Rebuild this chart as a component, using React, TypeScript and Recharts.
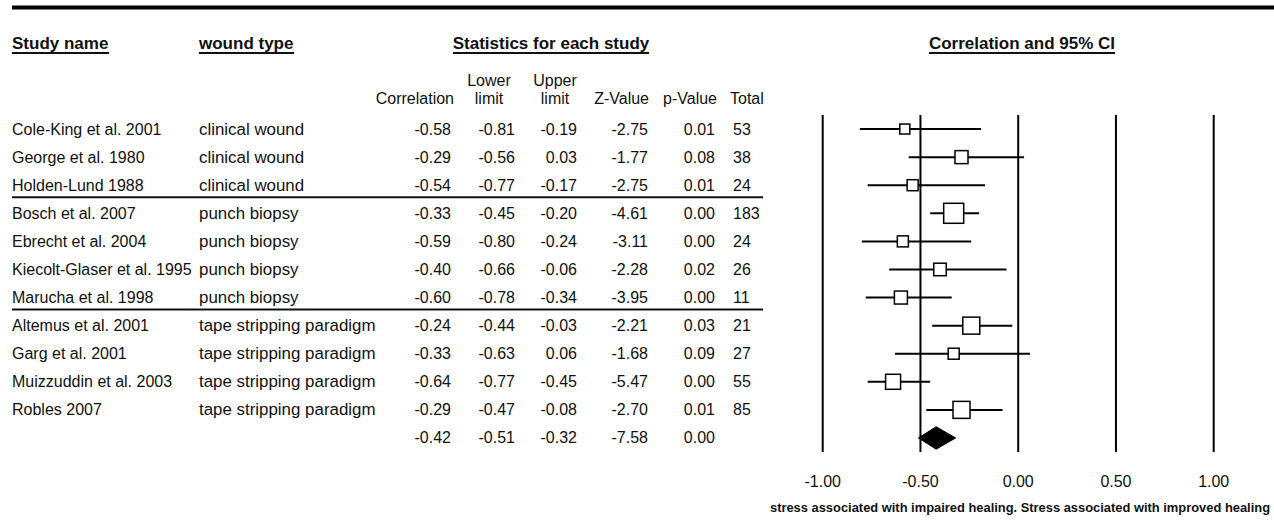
import React from "react";
import {
  ComposedChart,
  Scatter,
  XAxis,
  YAxis,
  ReferenceLine,
} from "recharts";

const studies = [
  "Cole-King et al. 2001",
  "George et al. 1980",
  "Holden-Lund 1988",
  "Bosch et al. 2007",
  "Ebrecht et al. 2004",
  "Kiecolt-Glaser et al. 1995",
  "Marucha et al. 1998",
  "Altemus et al. 2001",
  "Garg et al. 2001",
  "Muizzuddin et al. 2003",
  "Robles 2007",
];
const woundType = [
  "clinical wound",
  "clinical wound",
  "clinical wound",
  "punch biopsy",
  "punch biopsy",
  "punch biopsy",
  "punch biopsy",
  "tape stripping paradigm",
  "tape stripping paradigm",
  "tape stripping paradigm",
  "tape stripping paradigm",
];
const correlation = [-0.58, -0.29, -0.54, -0.33, -0.59, -0.4, -0.6, -0.24, -0.33, -0.64, -0.29];
const lowerLimit = [-0.81, -0.56, -0.77, -0.45, -0.8, -0.66, -0.78, -0.44, -0.63, -0.77, -0.47];
const upperLimit = [-0.19, 0.03, -0.17, -0.2, -0.24, -0.06, -0.34, -0.03, 0.06, -0.45, -0.08];
const zValue = [-2.75, -1.77, -2.75, -4.61, -3.11, -2.28, -3.95, -2.21, -1.68, -5.47, -2.7];
const pValue = [0.01, 0.08, 0.01, 0.0, 0.0, 0.02, 0.0, 0.03, 0.09, 0.0, 0.01];
const total = [53, 38, 24, 183, 24, 26, 11, 21, 27, 55, 85];
// relative study weight
const weight = [10, 13, 11, 20, 11, 12.5, 13, 17, 11, 15, 17];

// pooled result
const pooledCorr = -0.42;
const pooledLower = -0.51;
const pooledUpper = -0.32;
const pooledZ = -7.58;
const pooledP = 0.0;

const xTicks = [-1, -0.5, 0, 0.5, 1];

const W = 1274;
const H = 527;
const FONT = "'Liberation Sans', Arial, Helvetica, sans-serif";
const INK = "#111";

const rowIdx = studies.map((_, i) => i).concat([studies.length]);
const pooledRow = studies.length;
const groupEnds = [2, 6];

const fmt = (v: number) => v.toFixed(2);

function renderRowTick(props: any) {
  const i = props.payload.value as number;
  const y = props.y;
  const base = y + 5.5;
  const pooled = i === pooledRow;
  const c = pooled ? pooledCorr : correlation[i];
  const lo = pooled ? pooledLower : lowerLimit[i];
  const up = pooled ? pooledUpper : upperLimit[i];
  const z = pooled ? pooledZ : zValue[i];
  const p = pooled ? pooledP : pValue[i];
  return (
    <g key={`row-${i}`} fontFamily={FONT} fontSize={16} fill={INK}>
      {!pooled && <text x={12} y={base}>{studies[i]}</text>}
      {!pooled && <text x={199} y={base} fontSize={16.9}>{woundType[i]}</text>}
      <text x={451} y={base} textAnchor="end">{fmt(c)}</text>
      <text x={515} y={base} textAnchor="end">{fmt(lo)}</text>
      <text x={577} y={base} textAnchor="end">{fmt(up)}</text>
      <text x={648} y={base} textAnchor="end">{fmt(z)}</text>
      <text x={715} y={base} textAnchor="end">{fmt(p)}</text>
      {!pooled && <text x={733} y={base}>{total[i]}</text>}
      {groupEnds.includes(i) && (
        <line x1={12} x2={763} y1={y + 12} y2={y + 12} stroke={INK} strokeWidth={2} />
      )}
    </g>
  );
}

function renderXTick(props: any) {
  return (
    <text
      key={`xt-${props.payload.value}`}
      x={props.x}
      y={487}
      textAnchor="middle"
      fontFamily={FONT}
      fontSize={16}
      fill={INK}
    >
      {fmt(props.payload.value)}
    </text>
  );
}

function StudyBox(props: any) {
  const { cx, cy, payload } = props;
  if (!payload.mid) return <g />;
  const s = payload.side;
  return (
    <rect
      x={cx - s / 2}
      y={cy - s / 2}
      width={s}
      height={s}
      fill="#fff"
      stroke="#000"
      strokeWidth={1.5}
    />
  );
}

const Diamond = (p: any) => (
  <polygon
    points={p.points.map((q: any) => `${q.x},${q.y}`).join(" ")}
    fill="#000"
    stroke="#000"
  />
);

function Headers() {
  const bold = { fontFamily: FONT, fontSize: 17, fontWeight: 700, fill: INK };
  const reg = { fontFamily: FONT, fontSize: 16, fill: INK };
  return (
    <svg
      width={W}
      height={H}
      style={{ position: "absolute", left: 0, top: 0, pointerEvents: "none" }}
    >
      <rect x={12} y={5.5} width={W - 12} height={4} fill="#000" />

      <text x={12} y={49} {...bold}>Study name</text>
      <line x1={12} x2={109} y1={53} y2={53} stroke={INK} strokeWidth={2} />
      <text x={199} y={49} {...bold}>wound type</text>
      <line x1={199} x2={294} y1={53} y2={53} stroke={INK} strokeWidth={2} />
      <text x={551} y={49} textAnchor="middle" {...bold}>Statistics for each study</text>
      <line x1={453} x2={649} y1={53} y2={53} stroke={INK} strokeWidth={2} />
      <text x={1022} y={49} textAnchor="middle" {...bold}>Correlation and 95% CI</text>
      <line x1={929} x2={1115} y1={53} y2={53} stroke={INK} strokeWidth={2} />

      <text x={454} y={104} textAnchor="end" {...reg}>Correlation</text>
      <text x={489} y={86} textAnchor="middle" {...reg}>Lower</text>
      <text x={489} y={104} textAnchor="middle" {...reg}>limit</text>
      <text x={555} y={86} textAnchor="middle" {...reg}>Upper</text>
      <text x={555} y={104} textAnchor="middle" {...reg}>limit</text>
      <text x={649} y={104} textAnchor="end" {...reg}>Z-Value</text>
      <text x={717} y={104} textAnchor="end" {...reg}>p-Value</text>
      <text x={730} y={104} {...reg}>Total</text>

      <text
        x={1020}
        y={512}
        textAnchor="middle"
        fontFamily={FONT}
        fontSize={12.9}
        fontWeight={700}
        fill={INK}
      >
        stress associated with impaired healing. Stress associated with improved healing
      </text>
    </svg>
  );
}

export default function App() {
  const studyData = studies.map((_, i) => [
    { x: lowerLimit[i], y: i },
    { x: correlation[i], y: i, mid: true, side: weight[i] },
    { x: upperLimit[i], y: i },
  ]);
  const diamondData = [
    { x: pooledLower, y: pooledRow },
    { x: pooledCorr, y: pooledRow - 0.4 },
    { x: pooledUpper, y: pooledRow },
    { x: pooledCorr, y: pooledRow + 0.4 },
  ];

  return (
    <div style={{ position: "absolute", left: 0, top: 0, width: W, height: H, background: "#fff" }}>
      <ComposedChart
        width={W}
        height={H}
        margin={{ top: 115, right: 60.3, bottom: 45, left: 812.7 }}
      >
        <XAxis
          type="number"
          dataKey="x"
          domain={[-1, 1]}
          ticks={xTicks}
          interval={0}
          axisLine={false}
          tickLine={false}
          height={30}
          tick={renderXTick}
        />
        <YAxis
          type="number"
          dataKey="y"
          domain={[-0.5, pooledRow + 0.5]}
          reversed
          ticks={rowIdx}
          interval={0}
          axisLine={false}
          tickLine={false}
          width={10}
          tick={renderRowTick}
        />
        {xTicks.map((v) => (
          <ReferenceLine key={v} x={v} stroke="#000" strokeWidth={2} />
        ))}
        {studyData.map((d, i) => (
          <Scatter
            key={studies[i]}
            data={d}
            line={{ stroke: "#000", strokeWidth: 2 }}
            lineType="joint"
            shape={<StudyBox />}
            isAnimationActive={false}
          />
        ))}
        <Scatter
          data={diamondData}
          line={Diamond}
          lineType="joint"
          shape={() => <g />}
          isAnimationActive={false}
        />
      </ComposedChart>
      <Headers />
    </div>
  );
}
